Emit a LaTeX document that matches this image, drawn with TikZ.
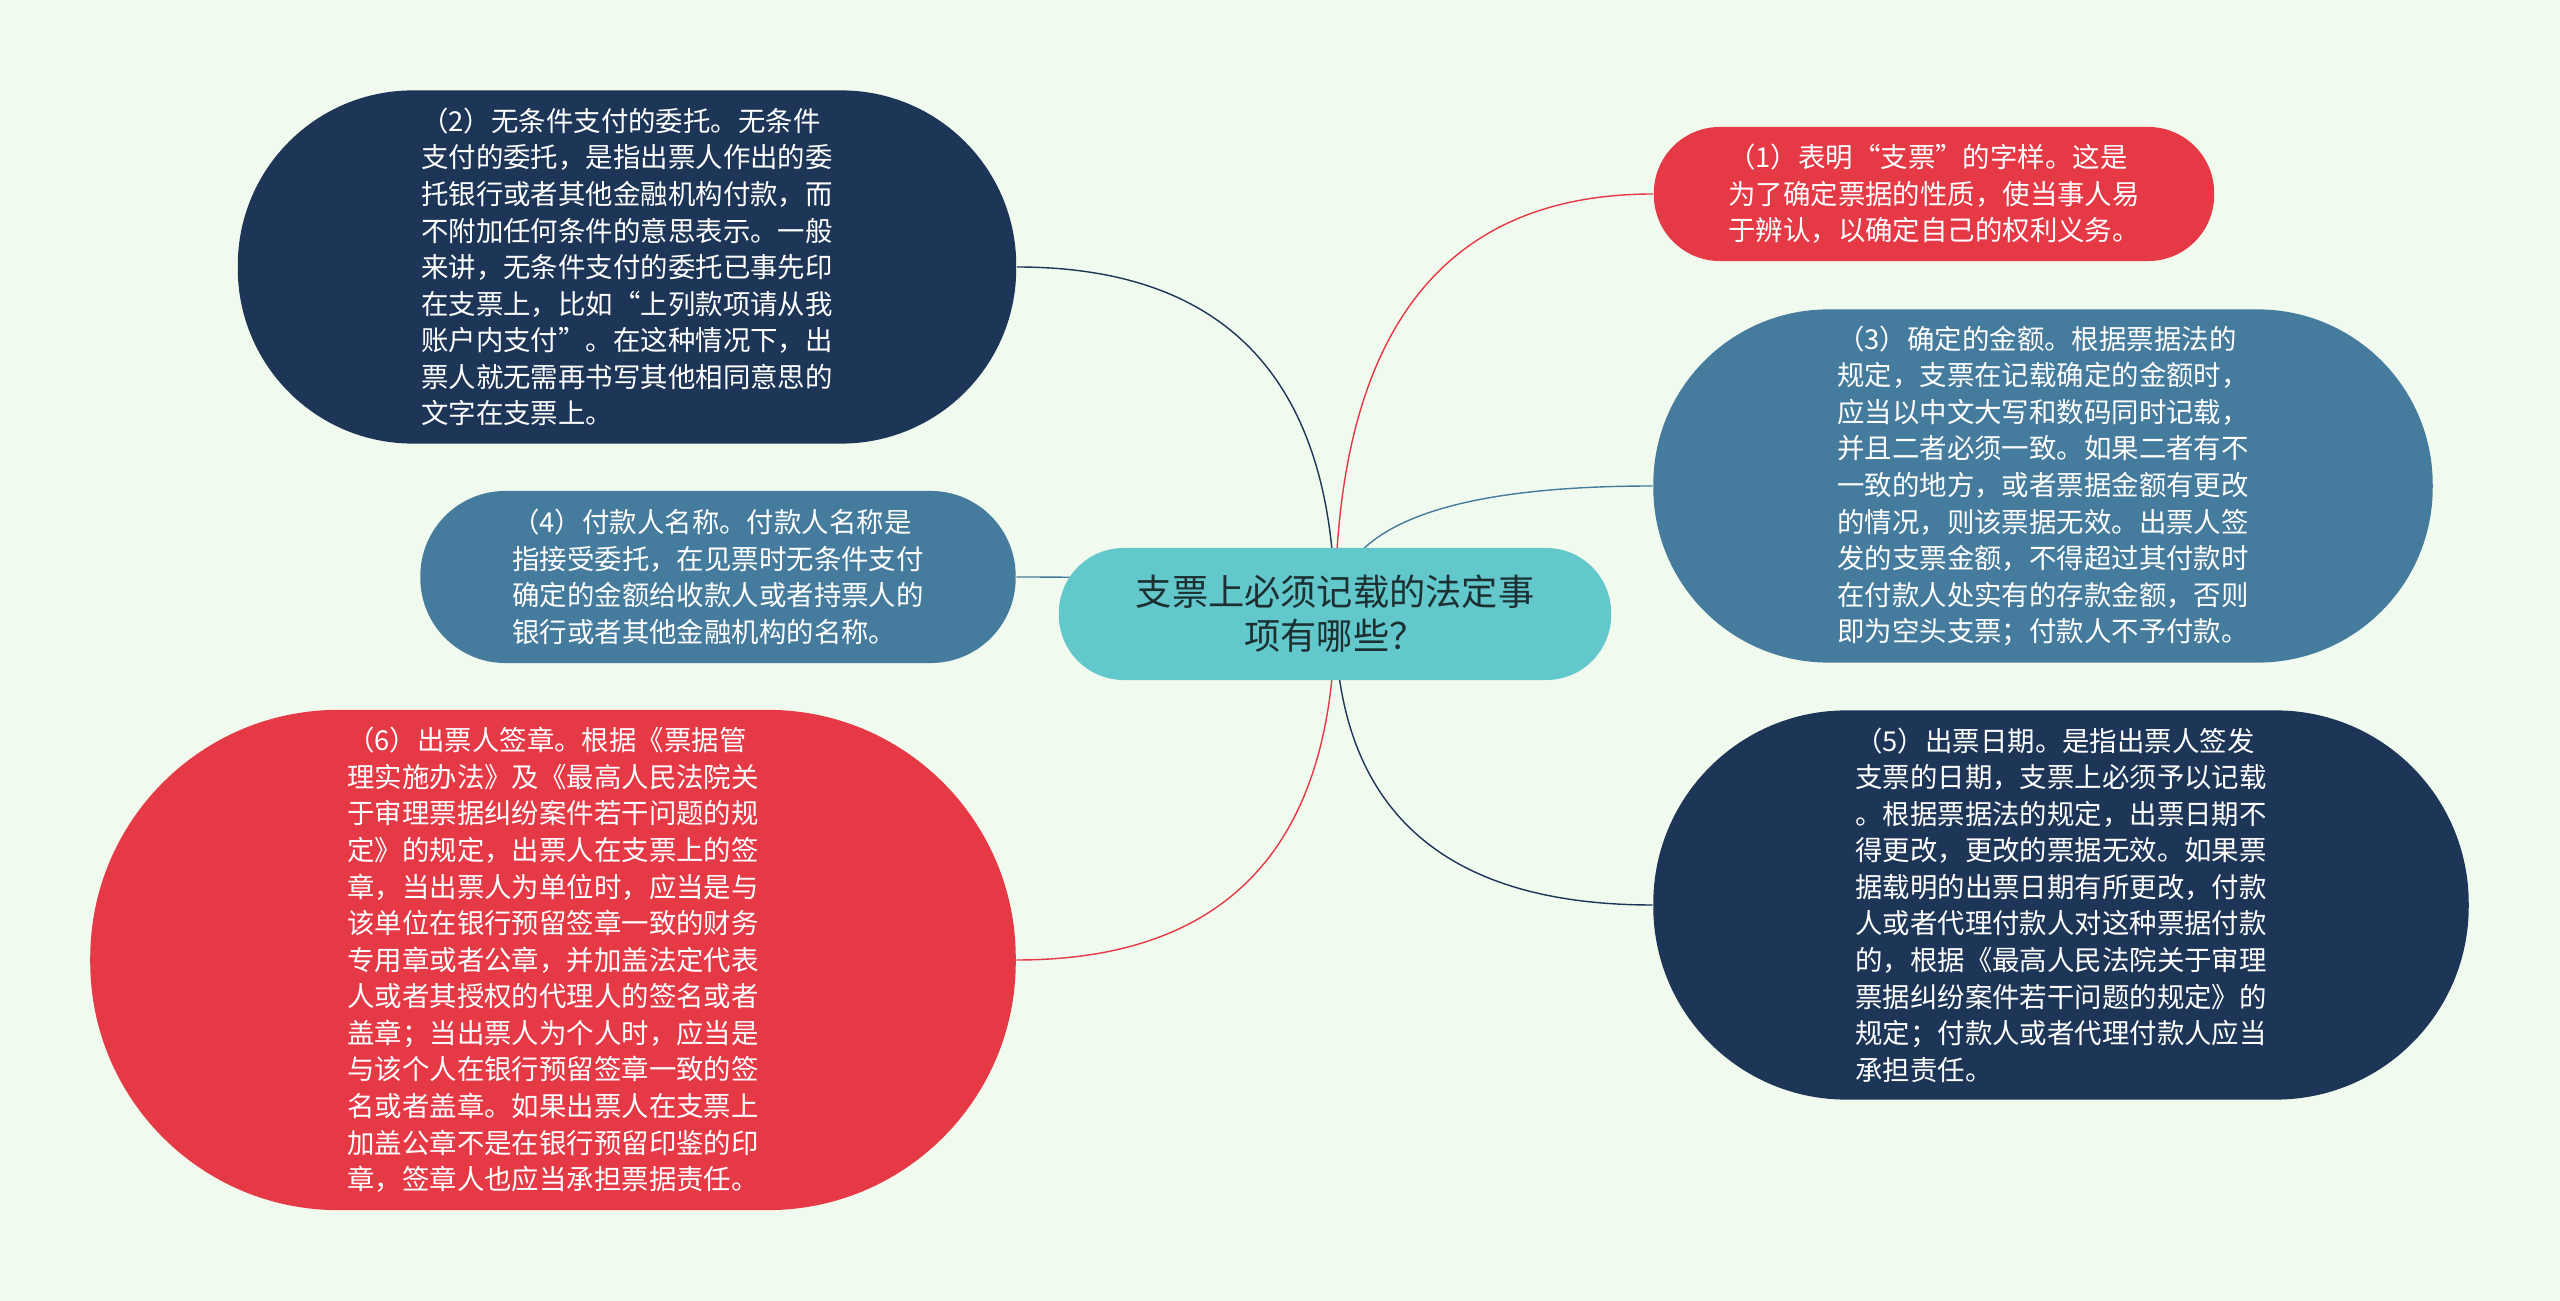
\documentclass[tikz,border=0pt]{standalone}
\usepackage{fontspec}
\setmainfont{Noto Sans CJK SC}
\usepackage{tikz}
\usetikzlibrary{calc}
\definecolor{bgpaper}{RGB}{241,250,238}
\definecolor{rootteal}{RGB}{99,200,204}
\definecolor{roottext}{RGB}{28,48,50}
\definecolor{leafred}{RGB}{230,57,70}
\definecolor{leafnavy}{RGB}{29,53,87}
\definecolor{leafsteel}{RGB}{69,123,157}
\pgfdeclarelayer{paper}
\pgfdeclarelayer{links}
\pgfsetlayers{paper,links,main}
\tikzset{
  rootbox/.style={inner sep=0pt, fill=rootteal, text=roottext, align=center,
    font=\fontsize{10.3pt}{12.5pt}\selectfont},
  leaf/.style={inner sep=0pt, text=white, align=left,
    font=\fontsize{7.8pt}{10.4pt}\selectfont},
  branch/.style={line width=1.05pt,
    to path={.. controls ($(\tikztostart)!2/3!(\tikztostart |- \tikztotarget)$)
      and ($(\tikztotarget)!2/3!(\tikztostart |- \tikztotarget)$) .. (\tikztotarget)}}
}
\begin{document}
\begin{tikzpicture}[x=0.01cm, y=-0.01cm]
  \useasboundingbox (0,0) rectangle (2560,1301);
  \begin{pgfonlayer}{paper}
    \fill[bgpaper] (0,0) rectangle (2560,1301);
  \end{pgfonlayer}

  % root
  \node[rootbox, minimum width=5.52cm, minimum height=1.32cm, rounded corners=0.65cm] (root) at (1335,614)
    {支票上必须记载的法定事\\项有哪些？};

  % right side
  \node[leaf, fill=leafred, minimum width=5.6cm, minimum height=1.34cm, rounded corners=0.66cm] (n1) at (1934,194)
    {（1）表明“支票”的字样。这是\\为了确定票据的性质，使当事人易\\于辨认，以确定自己的权利义务。};
  \node[leaf, fill=leafsteel, minimum width=7.79cm, minimum height=3.53cm, rounded corners=1.75cm] (n3) at (2043,486)
    {（3）确定的金额。根据票据法的\\规定，支票在记载确定的金额时，\\应当以中文大写和数码同时记载，\\并且二者必须一致。如果二者有不\\一致的地方，或者票据金额有更改\\的情况，则该票据无效。出票人签\\发的支票金额，不得超过其付款时\\在付款人处实有的存款金额，否则\\即为空头支票；付款人不予付款。};
  \node[leaf, fill=leafnavy, minimum width=8.15cm, minimum height=3.89cm, rounded corners=1.93cm] (n5) at (2061,905)
    {（5）出票日期。是指出票人签发\\支票的日期，支票上必须予以记载\\。根据票据法的规定，出票日期不\\得更改，更改的票据无效。如果票\\据载明的出票日期有所更改，付款\\人或者代理付款人对这种票据付款\\的，根据《最高人民法院关于审理\\票据纠纷案件若干问题的规定》的\\规定；付款人或者代理付款人应当\\承担责任。};

  % left side
  \node[leaf, fill=leafnavy, minimum width=7.78cm, minimum height=3.53cm, rounded corners=1.75cm] (n2) at (627,267)
    {（2）无条件支付的委托。无条件\\支付的委托，是指出票人作出的委\\托银行或者其他金融机构付款，而\\不附加任何条件的意思表示。一般\\来讲，无条件支付的委托已事先印\\在支票上，比如“上列款项请从我\\账户内支付”。在这种情况下，出\\票人就无需再书写其他相同意思的\\文字在支票上。};
  \node[leaf, fill=leafsteel, minimum width=5.95cm, minimum height=1.72cm, rounded corners=0.85cm] (n4) at (718,577)
    {（4）付款人名称。付款人名称是\\指接受委托，在见票时无条件支付\\确定的金额给收款人或者持票人的\\银行或者其他金融机构的名称。};
  \node[leaf, fill=leafred, minimum width=9.25cm, minimum height=5.0cm, rounded corners=2.48cm] (n6) at (553,960)
    {（6）出票人签章。根据《票据管\\理实施办法》及《最高人民法院关\\于审理票据纠纷案件若干问题的规\\定》的规定，出票人在支票上的签\\章，当出票人为单位时，应当是与\\该单位在银行预留签章一致的财务\\专用章或者公章，并加盖法定代表\\人或者其授权的代理人的签名或者\\盖章；当出票人为个人时，应当是\\与该个人在银行预留签章一致的签\\名或者盖章。如果出票人在支票上\\加盖公章不是在银行预留印鉴的印\\章，签章人也应当承担票据责任。};

  % links
  \begin{pgfonlayer}{links}
    \draw[leafred] (root.center) to[branch] (n1.west);
    \draw[leafsteel] (root.center) to[branch] (n3.west);
    \draw[leafnavy] (root.center) to[branch] (n5.west);
    \draw[leafnavy] (root.center) to[branch] (n2.east);
    \draw[leafsteel] (root.center) to[branch] (n4.east);
    \draw[leafred] (root.center) to[branch] (n6.east);
  \end{pgfonlayer}
\end{tikzpicture}
\end{document}
